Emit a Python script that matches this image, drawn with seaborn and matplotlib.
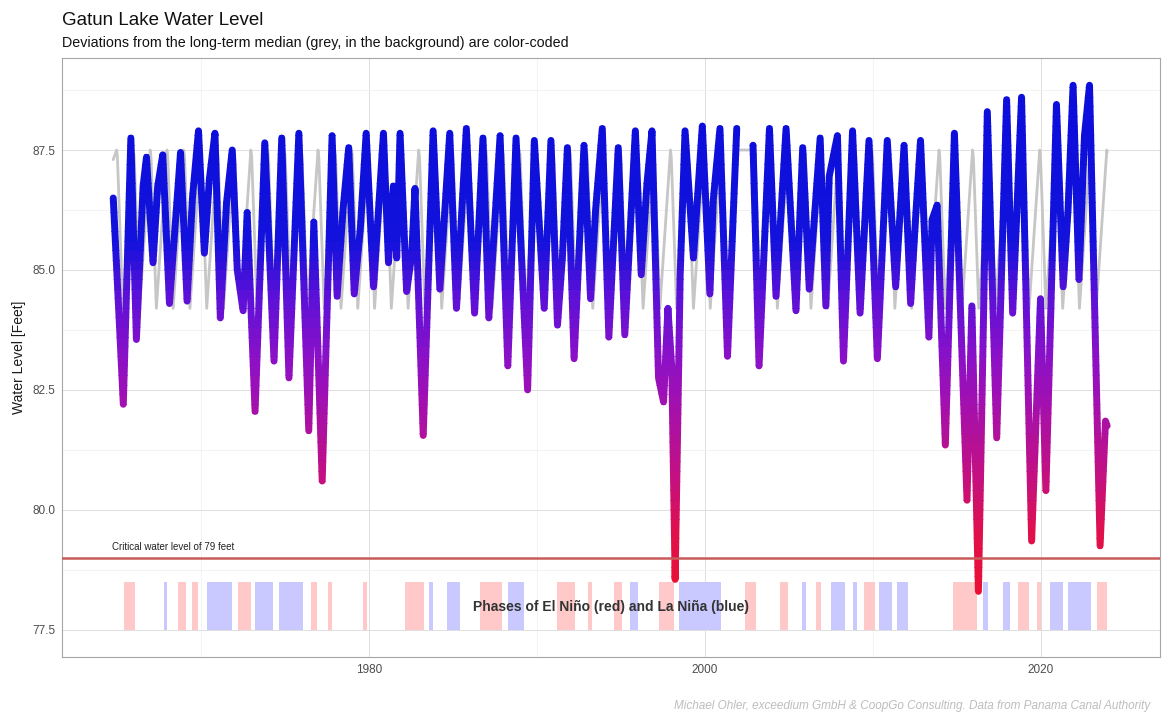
import numpy as np
import pandas as pd
import matplotlib
matplotlib.use('Agg')
import matplotlib.pyplot as plt
from matplotlib.colors import LinearSegmentedColormap, Normalize
from matplotlib.patches import Rectangle
import seaborn as sns

obs_year = [1964.75, 1965.35, 1965.80, 1966.13, 1966.53, 1966.73, 1967.12, 1967.40, 1967.70, 1968.10,
            1968.76, 1969.15, 1969.47, 1969.83, 1970.18, 1970.48, 1970.81, 1971.13, 1971.50, 1971.84,
            1972.14, 1972.49, 1972.73, 1973.20, 1973.78, 1974.33, 1974.79, 1975.22, 1975.81, 1976.40,
            1976.70, 1977.20, 1977.79, 1978.09, 1978.44, 1978.78, 1979.11, 1979.47, 1979.82, 1980.26,
            1980.85, 1981.15, 1981.44, 1981.64, 1981.84, 1982.23, 1982.53, 1982.73, 1983.22, 1983.81,
            1984.21, 1984.80, 1985.20, 1985.79, 1986.28, 1986.78, 1987.13, 1987.80, 1988.26, 1988.75,
            1989.44, 1989.84, 1990.43, 1990.83, 1991.22, 1991.51, 1991.81, 1992.21, 1992.80, 1993.19,
            1993.49, 1993.89, 1994.28, 1994.84, 1995.23, 1995.86, 1996.21, 1996.55, 1996.85, 1997.24,
            1997.54, 1997.80, 1998.03, 1998.23, 1998.53, 1998.82, 1999.32, 1999.85, 2000.30, 2000.50,
            2000.90, 2001.35, 2001.90,
            2002.87, 2003.23, 2003.85, 2004.24, 2004.84, 2005.43, 2005.83, 2006.22, 2006.87, 2007.21,
            2007.41, 2007.90, 2008.26, 2008.80, 2009.25, 2009.78, 2010.28, 2010.87, 2011.37, 2011.87,
            2012.26, 2012.55, 2012.85, 2013.35, 2013.54, 2013.84, 2014.33, 2014.87, 2015.62, 2015.91,
            2016.30, 2016.83, 2017.39, 2017.98, 2018.34, 2018.87, 2019.47, 2020.00, 2020.32, 2020.95,
            2021.35, 2021.64, 2021.94, 2022.29, 2022.62, 2022.92, 2023.55, 2023.87, 2023.97]
obs_level = [86.5, 82.2, 87.75, 83.55, 86.75, 87.35, 85.15, 86.75, 87.4, 84.3,
             87.45, 84.35, 86.5, 87.9, 85.35, 86.9, 87.85, 84.0, 86.4, 87.5,
             85.0, 84.15, 86.2, 82.05, 87.65, 83.1, 87.75, 82.75, 87.85, 81.65,
             86.0, 80.6, 87.8, 84.45, 86.25, 87.55, 84.5, 85.85, 87.85, 84.65,
             87.85, 85.15, 86.75, 85.25, 87.85, 84.55, 85.3, 86.7, 81.55, 87.9,
             84.6, 87.85, 84.2, 87.95, 84.1, 87.75, 84.0, 87.8, 83.0, 87.75,
             82.5, 87.7, 84.2, 87.7, 83.85, 85.25, 87.55, 83.15, 87.6, 84.4,
             86.25, 87.95, 83.6, 87.55, 83.65, 87.9, 84.9, 86.8, 87.9, 82.75,
             82.25, 84.2, 82.95, 78.55, 84.9, 87.9, 85.25, 88.0, 84.5, 86.45,
             87.95, 83.2, 87.95,
             87.6, 83.0, 87.95, 84.45, 87.95, 84.15, 87.55, 84.6, 87.75, 84.25,
             86.95, 87.8, 83.1, 87.9, 84.1, 87.7, 83.15, 87.7, 84.65, 87.6,
             84.3, 86.05, 87.7, 83.6, 86.05, 86.35, 81.35, 87.85, 80.2, 84.25,
             78.3, 88.3, 81.5, 88.55, 84.1, 88.6, 79.35, 84.4, 80.4, 88.45,
             84.65, 86.25, 88.85, 84.8, 87.8, 88.85, 79.25, 81.85, 81.75]
gap_start, gap_end = 2001.95, 2002.85

# long-term median by time of year (fraction of year, feet)
median_frac = [0.0, 0.32, 0.95]
median_level = [87.35, 84.2, 87.5]

# ENSO phases (decimal years)
nino_start = [1965.39, 1968.63, 1969.42, 1972.21, 1976.55, 1977.52, 1979.64, 1982.11, 1986.62, 1991.21,
              1993.01, 1994.61, 1997.24, 2002.39, 2004.47, 2006.62, 2009.47, 2014.78, 2018.68, 2019.82,
              2023.37]
nino_end = [1966.03, 1969.10, 1969.80, 1972.95, 1976.92, 1977.81, 1979.89, 1983.24, 1987.89, 1992.27,
            1993.27, 1995.05, 1998.16, 2003.05, 2004.95, 2006.93, 2010.13, 2016.21, 2019.34, 2020.04,
            2023.98]
nina_start = [1967.79, 1970.36, 1973.22, 1974.60, 1983.59, 1984.65, 1988.25, 1995.53, 1998.44, 2005.79,
              2007.50, 2008.80, 2010.39, 2011.44, 2016.58, 2017.74, 2020.59, 2021.62]
nina_end = [1967.95, 1971.80, 1974.28, 1976.08, 1983.80, 1985.43, 1989.20, 1996.03, 2000.97, 2006.05,
            2008.37, 2009.08, 2011.16, 2012.10, 2016.86, 2018.18, 2021.31, 2023.00]

critical_level = 79.0

# colour of the observed trace by water level
color_level = [78.0, 79.5, 80.5, 82.0, 83.2, 84.5, 85.6, 89.5]
color_hex = ['#ec1030', '#e0104a', '#c8107a', '#a810a8', '#8a10c8', '#5a10d8', '#1212dc', '#0c0cdc']

sns.set_theme(style='whitegrid')
plt.rcParams['font.family'] = ['Liberation Sans', 'DejaVu Sans']

obs = pd.DataFrame({'year': obs_year, 'level': obs_level})
obs['seg'] = (obs.year > gap_start).astype(int)

yrs = np.arange(int(obs.year.min()), int(obs.year.max()) + 1)
med = pd.DataFrame([(y + f, l) for y in yrs for f, l in zip(median_frac, median_level)],
                   columns=['year', 'level'])
med = med[(med.year >= obs.year.min()) & (med.year <= obs.year.max())]
med = med[(med.year <= gap_start) | (med.year >= gap_end)]
med = pd.concat([pd.DataFrame({'year': [obs.year.min()], 'level': [87.3]}), med,
                 pd.DataFrame({'year': [obs.year.max()], 'level': [87.45]})])

fig = plt.figure(figsize=(11.62, 7.15), dpi=100)
ax = fig.add_axes([0.0534, 0.081, 0.9446, 0.838])

ax.bar(nino_start, 1.0, width=np.subtract(nino_end, nino_start), bottom=77.5, align='edge',
       color='#ffc9c9', linewidth=0, zorder=1)
ax.bar(nina_start, 1.0, width=np.subtract(nina_end, nina_start), bottom=77.5, align='edge',
       color='#c9c9ff', linewidth=0, zorder=1)

sns.lineplot(data=med, x='year', y='level', ax=ax, color='#c6c6c6', lw=2.0,
             sort=False, estimator=None, zorder=2)

cmap = LinearSegmentedColormap.from_list(
    'dev', list(zip([(v - 78.0) / (89.5 - 78.0) for v in color_level], color_hex)))
norm = Normalize(78.0, 89.5)
edges = np.arange(77.0, 89.61, 0.2)
for lo, hi in zip(edges[:-1], edges[1:]):
    col = cmap(norm((lo + hi) / 2))
    for seg, d in obs.groupby('seg'):
        rect = Rectangle((1950, lo - 0.01), 90, hi - lo + 0.02, transform=ax.transData)
        line, = ax.plot(d.year, d.level, color=col, lw=5.0, solid_joinstyle='round',
                        solid_capstyle='round', zorder=3)
        line.set_clip_path(rect)

ax.axhline(critical_level, color='#c85a5a', lw=1.8, zorder=4)
ax.text(1964.7, critical_level + 0.12, 'Critical water level of 79 feet', fontsize=7,
        color='#222222', va='bottom', ha='left', zorder=5)
ax.text(1994.4, 77.98, 'Phases of El Niño (red) and La Niña (blue)', fontsize=10,
        fontweight='bold', color='#333333', ha='center', va='center', zorder=5)

ax.set_xlim(1961.7, 2027.1)
ax.set_ylim(76.93, 89.42)
ax.set_xticks([1980, 2000, 2020])
ax.set_xticks([1970, 1990, 2010], minor=True)
ax.set_yticks([77.5, 80.0, 82.5, 85.0, 87.5])
ax.set_yticklabels(['77.5', '80.0', '82.5', '85.0', '87.5'])
ax.set_yticks([78.75, 81.25, 83.75, 86.25, 88.75], minor=True)
ax.grid(which='major', color='#dedede', lw=0.7)
ax.grid(which='minor', color='#eeeeee', lw=0.5)
ax.tick_params(axis='both', which='major', labelsize=8.5, labelcolor='#4d4d4d', color='#b3b3b3',
               length=3, width=0.6, pad=2)
ax.tick_params(axis='both', which='minor', length=0)
for s in ax.spines.values():
    s.set_color('#a6a6a6')
    s.set_linewidth(0.8)
ax.set_xlabel('')
ax.set_ylabel('Water Level [Feet]', fontsize=10, color='#1a1a1a', labelpad=4)

fig.text(0.0534, 0.972, 'Gatun Lake Water Level', fontsize=13.5, color='#111111', va='center')
fig.text(0.0534, 0.940, 'Deviations from the long-term median (grey, in the background) are color-coded',
         fontsize=10.3, color='#111111', va='center')
fig.text(0.99, 0.012, 'Michael Ohler, exceedium GmbH & CoopGo Consulting. Data from Panama Canal Authority',
         fontsize=8.5, color='#bdbdbd', style='italic', ha='right', va='center')

fig.savefig('out.png', dpi=100)
